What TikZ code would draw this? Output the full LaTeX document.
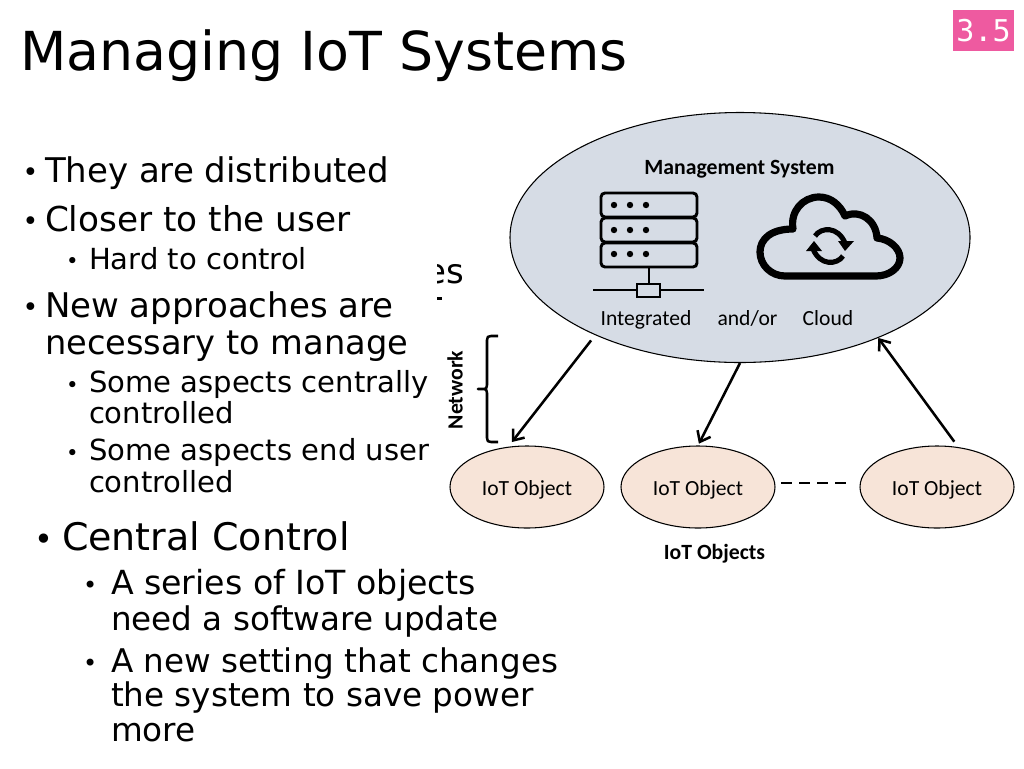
\documentclass[tikz,border=0pt]{standalone}
\usepackage{fontspec}
\setmainfont{DejaVu Sans}
\newfontfamily\diag{Carlito}
\newfontfamily\badgefont{DejaVu Sans Mono}
\usetikzlibrary{shapes.geometric,arrows.meta}
\newcommand{\fsz}[1]{\fontsize{#1}{#1}\selectfont}
\definecolor{mgmtfill}{HTML}{D6DCE5}
\definecolor{objfill}{HTML}{F7E4D8}
\definecolor{badgepink}{HTML}{EE5AA0}
\tikzset{
  x=0.75pt,y=-0.75pt,
  txt/.style={anchor=base west,inner sep=0pt,outer sep=0pt},
  lvlA/.style={txt,font=\fsz{25.5pt}},
  lvlB/.style={txt,font=\fsz{21.8pt}},
  lvlC/.style={txt,font=\fsz{28.5pt}},
  lvlD/.style={txt,font=\fsz{24.45pt}},
  bul/.style={txt,font=\fsz{20pt}},
  bulB/.style={txt,font=\fsz{16pt}},
  bulD/.style={txt,font=\fsz{18pt}},
  dlabel/.style={anchor=base,inner sep=0pt,outer sep=0pt,font=\diag\fsz{16.2pt}},
  dbold/.style={anchor=base,inner sep=0pt,outer sep=0pt,font=\diag\bfseries\fsz{16.3pt}},
  objnode/.style={ellipse,draw=black,line width=0.8pt,fill=objfill,minimum width=115.5pt,minimum height=61.5pt,inner sep=0pt,text height=12pt,text depth=0pt,font=\diag\fsz{16.2pt}},
  flow/.style={draw=black,line width=1.9pt,-{Straight Barb[length=7pt,width=11pt,line width=1.9pt]}},
  icon/.style={draw=black,line width=2.2pt},
}
\begin{document}
\begin{tikzpicture}
\useasboundingbox (0,0) rectangle (1024,768);
\fill[white] (0,0) rectangle (1024,768);

% hidden text fragment behind the slide text
\begin{scope}
\clip (437,255) rectangle (480,295);
\node[lvlA] (frag) at (406.7,283) {ces};
\end{scope}
\fill[black] (437,297) rectangle (442,300);

\node[txt,font=\fsz{40.3pt}] (title) at (20,70) {Managing IoT Systems};
\node[fill=badgepink,minimum width=45.75pt,minimum height=30.75pt,inner sep=0pt] (badge) at (983.5,30.5) {\badgefont\fsz{22.5pt}\color{white}3.5};

\node[bul] (b1) at (22.5,181) {•};
\node[lvlA] (t1) at (45,182) {They are distributed};
\node[bul] (b2) at (22.5,230) {•};
\node[lvlA,font=\fsz{25.7pt}] (t2) at (45,231) {Closer to the user};
\node[bulB] (b3) at (66,268) {•};
\node[lvlB] (t3) at (89,269) {Hard to control};
\node[bul] (b4) at (22.5,316) {•};
\node[lvlA] (t4) at (45,317) {New approaches are};
\node[lvlA,font=\fsz{25.25pt}] (t5) at (45,354) {necessary to manage};
\node[bulB] (b5) at (66,392) {•};
\node[lvlB] (t6) at (89,392.5) {Some aspects centrally};
\node[lvlB] (t7) at (89,423.5) {controlled};
\node[bulB] (b6) at (66,460) {•};
\node[lvlB] (t8) at (89,460.5) {Some aspects end user};
\node[lvlB] (t9) at (89,492) {controlled};
\node[bul,font=\fsz{24pt}] (b7) at (34,550) {•};
\node[lvlC] (t10) at (62,550.5) {Central Control};
\node[bulD] (b8) at (83,593) {•};
\node[lvlD,font=\fsz{24.9pt}] (t11) at (111,594) {A series of IoT objects};
\node[lvlD] (t12) at (111,630) {need a software update};
\node[bulD] (b9) at (83,671) {•};
\node[lvlD] (t13) at (111,672) {A new setting that changes};
\node[lvlD] (t14) at (111,706) {the system to save power};
\node[lvlD] (t15) at (111,741) {more};

% management ellipse
\node[ellipse,draw=black,line width=0.8pt,fill=mgmtfill,minimum width=345pt,minimum height=187.5pt,inner sep=0pt] (mgmt) at (740,237.5) {};
\node[dbold] (mtitle) at (739.5,174) {Management System};
\node[dlabel] (integ) at (646,325) {Integrated};
\node[dlabel] (andor) at (747.5,325) {and/or};
\node[dlabel] (cloudl) at (828,325) {Cloud};

% server icon
\draw[icon,rounded corners=3pt] (601,193) rectangle (697,217);
\draw[icon,rounded corners=3pt] (601,218) rectangle (697,242);
\draw[icon,rounded corners=3pt] (601,243) rectangle (697,267);
\foreach \yy in {205,230,254}{\foreach \xx in {614,630,646}{\fill[black] (\xx,\yy) circle[radius=2.4pt];}}
\draw[icon] (649,267) -- (649,284);
\draw[icon] (593,290) -- (637,290) (660,290) -- (704,290);
\draw[icon] (637,284) rectangle (660,297);

% cloud icon
\draw[black,line width=5.4pt,line join=round]
 (785,276) .. controls (771,276) and (760,265) .. (760,252)
 .. controls (760,239) and (771,229) .. (793,229)
 .. controls (790,211) and (803,197) .. (819,197)
 .. controls (831,197) and (840,205) .. (845,216)
 .. controls (860,209) and (876,220) .. (877,238)
 .. controls (889,239) and (900,248) .. (900,258)
 .. controls (900,268) and (889,276) .. (876,276)
 -- cycle;
\draw[black,line width=3.8pt] (815,236) .. controls (821,227) and (838,226) .. (845,243);
\fill[black] (838,241) -- (854,241) -- (845,251) -- cycle;
\draw[black,line width=3.8pt] (843,256) .. controls (837,265) and (820,266) .. (813,249);
\fill[black] (806,251) -- (822,251) -- (814,241) -- cycle;

% objects
\node[objnode] (o1) at (527,487) {IoT Object};
\node[objnode] (o2) at (698,487) {IoT Object};
\node[objnode] (o3) at (937,487) {IoT Object};
\node[dbold] (objs) at (714.5,559) {IoT Objects};

% connectors
\draw[flow,shorten <=5pt,shorten >=4.4pt] (mgmt.214.6) -- (o1.115.4);
\draw[flow,shorten >=1.5pt] (mgmt.270) -- (o2.north);
\draw[flow,shorten <=5pt] (o3.62) -- (mgmt.324);
\draw[black,line width=1.5pt,dash pattern=on 8pt off 5.5pt,shorten <=4.5pt,shorten >=9pt] (o2.3) -- (o3.177);

% network brace
\draw[black,line width=1.9pt,line join=round]
 (498,336) -- (491,336) .. controls (488,336) and (487,337) .. (487,340) -- (487,385)
 .. controls (487,388) and (486,389) .. (484,389) -- (478,389) -- (484,389)
 .. controls (486,389) and (487,390) .. (487,393) -- (487,438)
 .. controls (487,441) and (488,442) .. (491,442) -- (498,442);
\node[rotate=90,inner sep=0pt,outer sep=0pt,font=\diag\bfseries\fsz{16.3pt}] (net) at (455,390) {Network};
\end{tikzpicture}
\end{document}
